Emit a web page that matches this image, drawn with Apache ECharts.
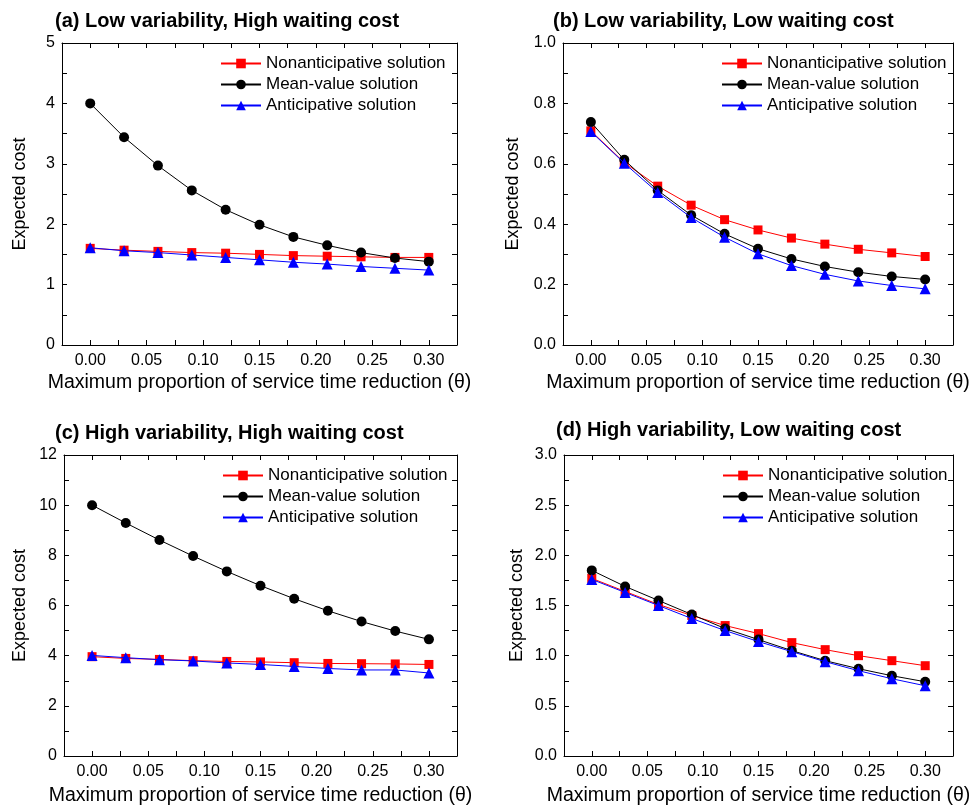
<!DOCTYPE html>
<html>
<head>
<meta charset="utf-8">
<script src="https://cdn.jsdelivr.net/npm/echarts@6/dist/echarts.min.js"></script>
<style>
  html, body { margin: 0; padding: 0; background: #fff; }
  #chart { width: 972px; height: 807px; }
</style>
</head>
<body>
<div id="chart"></div>
<script>
var FONT = "'Liberation Sans', Arial, sans-serif";
var names = ['Nonanticipative solution', 'Mean-value solution', 'Anticipative solution'];
var thetas = [0, 0.03, 0.06, 0.09, 0.12, 0.15, 0.18, 0.21, 0.24, 0.27, 0.30];

// (a) Low variability, High waiting cost
var aNon  = [1.60, 1.57, 1.55, 1.53, 1.52, 1.50, 1.48, 1.47, 1.46, 1.45, 1.45];
var aMean = [4.00, 3.44, 2.97, 2.56, 2.24, 1.99, 1.79, 1.65, 1.53, 1.44, 1.38];
var aAnt  = [1.61, 1.56, 1.53, 1.49, 1.45, 1.41, 1.37, 1.34, 1.30, 1.27, 1.24];
// (b) Low variability, Low waiting cost
var bNon  = [0.709, 0.604, 0.526, 0.463, 0.415, 0.381, 0.354, 0.334, 0.317, 0.305, 0.293];
var bMean = [0.738, 0.613, 0.512, 0.430, 0.368, 0.319, 0.285, 0.260, 0.241, 0.227, 0.217];
var bAnt  = [0.707, 0.602, 0.505, 0.422, 0.357, 0.302, 0.263, 0.234, 0.212, 0.197, 0.186];
// (c) High variability, High waiting cost
var cNon  = [3.96, 3.89, 3.85, 3.80, 3.77, 3.75, 3.72, 3.69, 3.68, 3.67, 3.65];
var cMean = [10.0, 9.29, 8.61, 7.97, 7.36, 6.79, 6.27, 5.79, 5.36, 4.98, 4.65];
var cAnt  = [4.01, 3.92, 3.84, 3.79, 3.71, 3.65, 3.57, 3.49, 3.43, 3.43, 3.31];
// (d) High variability, Low waiting cost
var dNon  = [1.77, 1.64, 1.51, 1.40, 1.30, 1.22, 1.13, 1.06, 1.00, 0.95, 0.90];
var dMean = [1.85, 1.69, 1.55, 1.41, 1.27, 1.16, 1.05, 0.95, 0.87, 0.80, 0.74];
var dAnt  = [1.76, 1.63, 1.50, 1.37, 1.25, 1.14, 1.04, 0.94, 0.85, 0.77, 0.70];

var panels = [
  {title: '(a) Low variability, High waiting cost', tx: 50, ty: 6,
   grid: {left: 62, right: 515, top: 43, bottom: 462}, lg: [220, 55],
   yMin: 0, yMax: 5, yInt: 0.5, yStep: 1, yDec: 0, yGap: 33, xGap: 28,
   data: [aNon, aMean, aAnt]},
  {title: '(b) Low variability, Low waiting cost', tx: 548, ty: 6,
   grid: {left: 563, right: 19, top: 43, bottom: 462}, lg: [721, 55],
   yMin: 0, yMax: 1.0, yInt: 0.1, yStep: 0.2, yDec: 1, yGap: 41, xGap: 28,
   data: [bNon, bMean, bAnt]},
  {title: '(c) High variability, High waiting cost', tx: 50, ty: 418,
   grid: {left: 64, right: 515, top: 455, bottom: 51}, lg: [222, 467],
   yMin: 0, yMax: 12, yInt: 1, yStep: 2, yDec: 0, yGap: 35, xGap: 30,
   data: [cNon, cMean, cAnt]},
  {title: '(d) High variability, Low waiting cost', tx: 551, ty: 415,
   grid: {left: 564, right: 19, top: 455, bottom: 51}, lg: [722, 467],
   yMin: 0, yMax: 3.0, yInt: 0.25, yStep: 0.5, yDec: 1, yGap: 38, xGap: 30,
   data: [dNon, dMean, dAnt]}
];

var colors = ['#ff0000', '#000000', '#0000ff'];
var symbols = ['rect', 'circle', 'triangle'];
var sizes = [9, 10, 11];

function onStep(v, step) {
  var r = v / step;
  return Math.abs(r - Math.round(r)) < 1e-6;
}

var option = {
  animation: false,
  title: [], grid: [], xAxis: [], yAxis: [], legend: [], series: []
};

panels.forEach(function (p, i) {
  option.title.push({
    text: p.title, left: p.tx, top: p.ty,
    textStyle: {fontFamily: FONT, fontSize: 20, fontWeight: 'bold', color: '#000'}
  });
  option.grid.push({left: p.grid.left, right: p.grid.right, top: p.grid.top, bottom: p.grid.bottom,
                    outerBoundsMode: 'none', containLabel: false});

  var lineStyle = {axisLine: {show: true, onZero: false, lineStyle: {color: '#000', width: 1}},
                   axisTick: {show: true, inside: true, length: 5, lineStyle: {color: '#000'}},
                   splitLine: {show: false}};

  option.xAxis.push(Object.assign({
    type: 'value', gridIndex: i, position: 'bottom',
    min: -0.025, max: 0.325, interval: 0.025,
    name: 'Maximum proportion of service time reduction (\u03b8)',
    nameLocation: 'middle', nameGap: p.xGap,
    nameTextStyle: {fontFamily: FONT, fontSize: 19.5, color: '#000'},
    axisLabel: {
      fontFamily: FONT, fontSize: 16, color: '#000', margin: 8,
      formatter: function (v) {
        if (v < -1e-9 || v > 0.3 + 1e-9 || !onStep(v, 0.05)) return '';
        return v.toFixed(2);
      }
    }
  }, lineStyle));
  option.xAxis.push(Object.assign({
    type: 'value', gridIndex: i, position: 'top',
    min: -0.025, max: 0.325, interval: 0.025,
    axisLabel: {show: false}
  }, lineStyle));

  option.yAxis.push(Object.assign({
    type: 'value', gridIndex: i, position: 'left',
    min: p.yMin, max: p.yMax, interval: p.yInt,
    name: 'Expected cost', nameLocation: 'middle', nameGap: p.yGap,
    nameTextStyle: {fontFamily: FONT, fontSize: 18, color: '#000'},
    axisLabel: {
      fontFamily: FONT, fontSize: 16, color: '#000', margin: 7,
      formatter: function (v) {
        if (!onStep(v, p.yStep)) return '';
        return v.toFixed(p.yDec);
      }
    }
  }, lineStyle));
  option.yAxis.push(Object.assign({
    type: 'value', gridIndex: i, position: 'right',
    min: p.yMin, max: p.yMax, interval: p.yInt,
    axisLabel: {show: false}
  }, lineStyle));

  option.legend.push({
    orient: 'vertical', left: p.lg[0], top: p.lg[1], padding: 0,
    itemWidth: 40, itemHeight: 12, itemGap: 4,
    data: names,
    textStyle: {fontFamily: FONT, fontSize: 17, color: '#000'}
  });

  p.data.forEach(function (vals, k) {
    option.series.push({
      name: names[k], type: 'line',
      xAxisIndex: i * 2, yAxisIndex: i * 2,
      data: thetas.map(function (t, j) { return [t, vals[j]]; }),
      symbol: symbols[k], symbolSize: sizes[k],
      lineStyle: {color: colors[k], width: 1},
      itemStyle: {color: colors[k]},
      z: 2 + k
    });
  });
});

var chart = echarts.init(document.getElementById('chart'));
chart.setOption(option);
</script>
</body>
</html>
